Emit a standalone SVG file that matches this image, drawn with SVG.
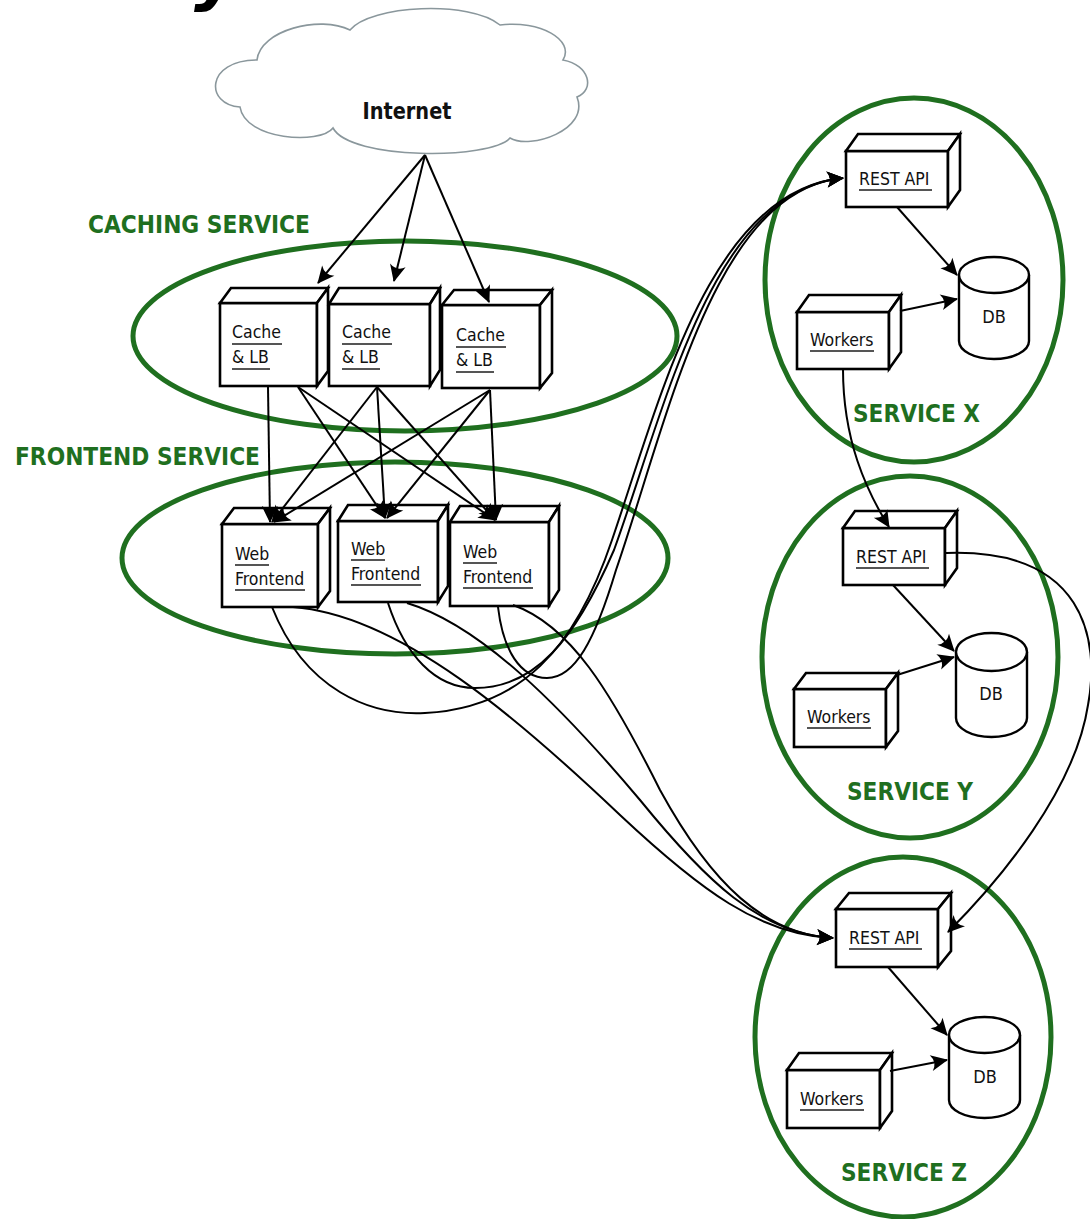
<svg xmlns="http://www.w3.org/2000/svg" width="1090" height="1219" viewBox="0 0 1090 1219">
<defs>
<style>
.grp{fill:none;stroke:#1f6f1f;stroke-width:5}
.glab{font-family:"DejaVu Sans Condensed","DejaVu Sans",sans-serif;font-stretch:condensed;font-weight:bold;fill:#1f6f1f;font-size:24px}
.box rect,.box path{fill:#fff;stroke:#000;stroke-width:2.6;stroke-linejoin:miter}
.lbl{font-family:"DejaVu Sans Condensed","DejaVu Sans",sans-serif;font-stretch:condensed;font-size:17.5px;fill:#111}
.ul{stroke:#555;stroke-width:2}
.db path{fill:#fff;stroke:#000;stroke-width:2.4}
.dbt{font-family:"DejaVu Sans Condensed","DejaVu Sans",sans-serif;font-stretch:condensed;font-size:18px;fill:#111;text-anchor:middle}
.conn path{fill:none;stroke:#000;stroke-width:2;marker-end:url(#ah)}
</style>
<marker id="ah" viewBox="-18 -9 20 18" refX="0" refY="0" markerWidth="20" markerHeight="18" markerUnits="userSpaceOnUse" orient="auto">
<path d="M1,0 L-16,-8 Q-10,0 -16,8 Z" fill="#000"/>
</marker>
</defs>
<rect width="1090" height="1219" fill="#fff"/>

<!-- heading tail running off the top edge -->
<text x="194" y="-3" font-family="DejaVu Sans" font-weight="bold" font-style="italic" font-size="70" fill="#000">y</text>

<!-- service groups -->
<g id="caching-service">
<ellipse class="grp" cx="405" cy="336" rx="272" ry="95"/>
<text class="glab" x="88" y="233" textLength="222" lengthAdjust="spacingAndGlyphs">CACHING SERVICE</text>
</g>
<g id="frontend-service">
<ellipse class="grp" cx="395" cy="558" rx="273" ry="96"/>
<text class="glab" x="15" y="465" textLength="245" lengthAdjust="spacingAndGlyphs">FRONTEND SERVICE</text>
</g>
<g id="service-x">
<ellipse class="grp" cx="914" cy="280" rx="149" ry="182"/>
<text class="glab" x="853" y="422" textLength="127" lengthAdjust="spacingAndGlyphs">SERVICE X</text>
</g>
<g id="service-y">
<ellipse class="grp" cx="910" cy="657" rx="148" ry="181"/>
<text class="glab" x="847" y="800" textLength="126" lengthAdjust="spacingAndGlyphs">SERVICE Y</text>
</g>
<g id="service-z">
<ellipse class="grp" cx="903" cy="1037" rx="148" ry="180"/>
<text class="glab" x="841" y="1181" textLength="126" lengthAdjust="spacingAndGlyphs">SERVICE Z</text>
</g>

<!-- internet cloud -->
<g id="internet">
<path d="M240 107 C205 105 205 60 257 60 C260 30 320 15 350 30 C370 5 470 0 500 25 C540 20 575 40 563 60 C590 65 595 90 577 97 C590 130 530 150 510 138 C490 160 350 160 333 128 C320 145 245 140 240 107 Z" fill="#fff" stroke="#8a979c" stroke-width="1.6"/>
<text x="407" y="119" text-anchor="middle" font-family="DejaVu Sans Condensed,DejaVu Sans,sans-serif" font-stretch="condensed" font-weight="bold" font-size="23" textLength="89" lengthAdjust="spacingAndGlyphs" fill="#111">Internet</text>
</g>

<!-- cache nodes -->
<g id="cache-1" class="box">
<rect x="220" y="303" width="97" height="83"/>
<path d="M220 303 L231 288 L328 288 L317 303 Z"/>
<path d="M317 303 L328 288 L328 371 L317 386 Z"/>
<text class="lbl" x="232" y="338">Cache</text><line class="ul" x1="232" y1="344" x2="282" y2="344"/>
<text class="lbl" x="232" y="363">&amp; LB</text><line class="ul" x1="232" y1="369" x2="270" y2="369"/>
</g>
<g id="cache-2" class="box">
<rect x="329" y="304" width="101" height="82"/>
<path d="M329 304 L339 288 L440 288 L430 304 Z"/>
<path d="M430 304 L440 288 L440 370 L430 386 Z"/>
<text class="lbl" x="342" y="338">Cache</text><line class="ul" x1="342" y1="344" x2="392" y2="344"/>
<text class="lbl" x="342" y="363">&amp; LB</text><line class="ul" x1="342" y1="369" x2="380" y2="369"/>
</g>
<g id="cache-3" class="box">
<rect x="442" y="305" width="98" height="83"/>
<path d="M442 305 L454 290 L552 290 L540 305 Z"/>
<path d="M540 305 L552 290 L552 373 L540 388 Z"/>
<text class="lbl" x="456" y="341">Cache</text><line class="ul" x1="456" y1="347" x2="506" y2="347"/>
<text class="lbl" x="456" y="366">&amp; LB</text><line class="ul" x1="456" y1="372" x2="494" y2="372"/>
</g>

<!-- web frontend nodes -->
<g id="web-1" class="box">
<rect x="222" y="524" width="96" height="83"/>
<path d="M222 524 L234 508 L330 508 L318 524 Z"/>
<path d="M318 524 L330 508 L330 591 L318 607 Z"/>
<text class="lbl" x="235" y="560">Web</text><line class="ul" x1="235" y1="565" x2="269" y2="565"/>
<text class="lbl" x="235" y="585">Frontend</text><line class="ul" x1="235" y1="590" x2="305" y2="590"/>
</g>
<g id="web-2" class="box">
<rect x="338" y="521" width="100" height="81"/>
<path d="M338 521 L348 505 L448 505 L438 521 Z"/>
<path d="M438 521 L448 505 L448 586 L438 602 Z"/>
<text class="lbl" x="351" y="555">Web</text><line class="ul" x1="351" y1="560" x2="385" y2="560"/>
<text class="lbl" x="351" y="580">Frontend</text><line class="ul" x1="351" y1="585" x2="421" y2="585"/>
</g>
<g id="web-3" class="box">
<rect x="450" y="522" width="99" height="84"/>
<path d="M450 522 L460 506 L559 506 L549 522 Z"/>
<path d="M549 522 L559 506 L559 590 L549 606 Z"/>
<text class="lbl" x="463" y="558">Web</text><line class="ul" x1="463" y1="563" x2="497" y2="563"/>
<text class="lbl" x="463" y="583">Frontend</text><line class="ul" x1="463" y1="588" x2="533" y2="588"/>
</g>

<!-- service X nodes -->
<g id="rest-x" class="box">
<rect x="846" y="151" width="102" height="56"/>
<path d="M846 151 L858 134 L960 134 L948 151 Z"/>
<path d="M948 151 L960 134 L960 190 L948 207 Z"/>
<text class="lbl" x="859" y="185">REST API</text><line class="ul" x1="859" y1="190" x2="932" y2="190"/>
</g>
<g id="workers-x" class="box">
<rect x="797" y="312" width="92" height="57"/>
<path d="M797 312 L809 295 L901 295 L889 312 Z"/>
<path d="M889 312 L901 295 L901 352 L889 369 Z"/>
<text class="lbl" x="810" y="346">Workers</text><line class="ul" x1="810" y1="351" x2="874" y2="351"/>
</g>
<g id="db-x" class="db">
<path d="M959 275 A35 18 0 0 1 1029 275 L1029 341 A35 18 0 0 1 959 341 Z"/>
<path d="M959 275 A35 18 0 0 0 1029 275"/>
<text class="dbt" x="994" y="323">DB</text>
</g>

<!-- service Y nodes -->
<g id="rest-y" class="box">
<rect x="843" y="528" width="102" height="57"/>
<path d="M843 528 L855 511 L957 511 L945 528 Z"/>
<path d="M945 528 L957 511 L957 568 L945 585 Z"/>
<text class="lbl" x="856" y="563">REST API</text><line class="ul" x1="856" y1="568" x2="929" y2="568"/>
</g>
<g id="workers-y" class="box">
<rect x="794" y="689" width="92" height="58"/>
<path d="M794 689 L806 673 L898 673 L886 689 Z"/>
<path d="M886 689 L898 673 L898 731 L886 747 Z"/>
<text class="lbl" x="807" y="723">Workers</text><line class="ul" x1="807" y1="728" x2="871" y2="728"/>
</g>
<g id="db-y" class="db">
<path d="M956 652 A35.5 19 0 0 1 1027 652 L1027 718 A35.5 19 0 0 1 956 718 Z"/>
<path d="M956 652 A35.5 19 0 0 0 1027 652"/>
<text class="dbt" x="991" y="700">DB</text>
</g>

<!-- service Z nodes -->
<g id="rest-z" class="box">
<rect x="836" y="909" width="102" height="58"/>
<path d="M836 909 L849 893 L951 893 L938 909 Z"/>
<path d="M938 909 L951 893 L951 951 L938 967 Z"/>
<text class="lbl" x="849" y="944">REST API</text><line class="ul" x1="849" y1="949" x2="922" y2="949"/>
</g>
<g id="workers-z" class="box">
<rect x="787" y="1070" width="93" height="58"/>
<path d="M787 1070 L799 1053 L892 1053 L880 1070 Z"/>
<path d="M880 1070 L892 1053 L892 1111 L880 1128 Z"/>
<text class="lbl" x="800" y="1105">Workers</text><line class="ul" x1="800" y1="1110" x2="864" y2="1110"/>
</g>
<g id="db-z" class="db">
<path d="M949 1035 A35.5 18 0 0 1 1020 1035 L1020 1100 A35.5 18 0 0 1 949 1100 Z"/>
<path d="M949 1035 A35.5 18 0 0 0 1020 1035"/>
<text class="dbt" x="985" y="1083">DB</text>
</g>

<!-- connectors -->
<g id="connectors" class="conn">
<!-- internet to caches -->
<path d="M425 155 L318 283"/>
<path d="M425 155 L394 281"/>
<path d="M425 155 L489 302"/>
<!-- caches to web frontends -->
<path d="M268 387 L270 522"/>
<path d="M298 387 L385 518"/>
<path d="M298 387 L495 520"/>
<path d="M377 387 L272 522"/>
<path d="M377 387 L385 518"/>
<path d="M377 387 L495 520"/>
<path d="M490 390 L274 522"/>
<path d="M490 390 L387 518"/>
<path d="M490 390 L496 520"/>
<!-- web frontends to service X -->
<path d="M272 607 C305 690 370 716 425 713 C520 708 575 650 612 540 C660 400 710 190 843 178"/>
<path d="M388 603 C405 655 435 688 475 688 C535 688 575 640 614 550 C665 410 712 190 843 178"/>
<path d="M498 607 C503 650 520 678 547 678 C575 678 595 640 616 570 C668 420 714 190 843 178"/>
<!-- web frontends to service Z -->
<path d="M293 607 C400 615 520 720 620 815 C700 890 760 935 833 938"/>
<path d="M407 603 C480 625 560 705 640 800 C705 880 760 934 833 938"/>
<path d="M513 605 C570 625 610 690 660 790 C712 885 765 934 833 938"/>
<!-- inside service X -->
<path d="M897 207 L957 275"/>
<path d="M900 311 L957 299"/>
<!-- service X workers to service Y -->
<path d="M843 369 C843 440 866 490 889 527"/>
<!-- inside service Y -->
<path d="M893 585 L954 651"/>
<path d="M897 675 L954 657"/>
<!-- service Y to service Z -->
<path d="M946 553 C1085 548 1100 640 1088 705 C1075 790 1000 880 948 932"/>
<!-- inside service Z -->
<path d="M888 967 L947 1035"/>
<path d="M890 1071 L947 1060"/>
</g>
</svg>
